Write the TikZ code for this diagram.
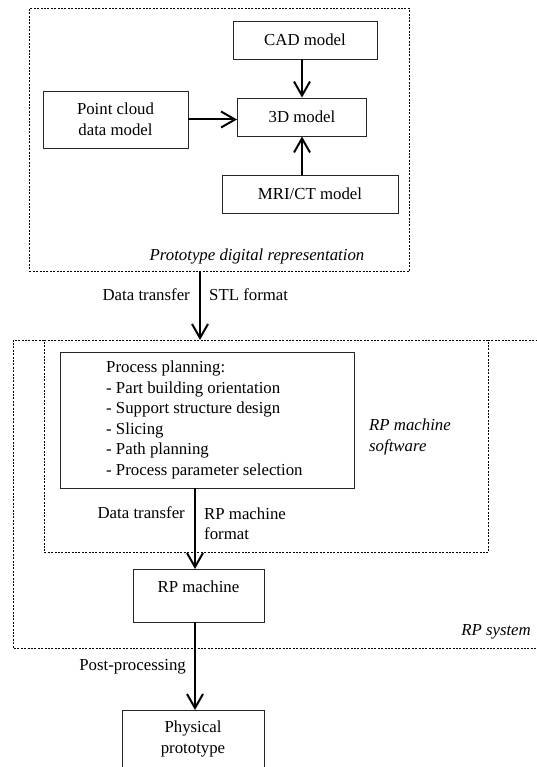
\documentclass[tikz,border=0pt]{standalone}
\usepackage{fontspec}
\setmainfont{Liberation Serif}
\usetikzlibrary{arrows.meta}
\begin{document}
\begin{tikzpicture}[x=1pt,y=-1pt,
  every node/.style={font=\fontsize{16.8}{20.5}\selectfont, inner sep=0pt},
  box/.style={draw=black!85, line width=0.9pt, minimum width=#1},
  region/.style={draw=black, line width=0.8pt, dash pattern=on 2pt off 1.4pt},
  flow/.style={line width=2pt, -{Straight Barb[length=14pt,width=16pt,line width=2pt]}},
  note/.style={font=\fontsize{16.8}{20.5}\selectfont\itshape, align=left}]
\useasboundingbox (0,0) rectangle (537,767);

% dotted frames
\node[region, anchor=north west, minimum width=380pt, minimum height=263pt] (proto) at (29,8) {};
\node[region, anchor=north west, minimum width=444pt, minimum height=212pt] (soft) at (44,340) {};
\draw[region] (44,340) -- (13,340) -- (13,648) -- (537,648);
\draw[region] (488,340) -- (537,340);

% digital representation
\node[box=144pt, minimum height=38pt] (cad) at (305,40) {CAD model};
\node[box=129pt, minimum height=38pt] (model) at (302,117) {3D model};
\node[box=145pt, minimum height=57pt, align=center] (cloud) at (115.5,119.5) {Point cloud\\data model};
\node[box=176pt, minimum height=38pt] (mri) at (310,194) {MRI/CT model};
\node[note] (protolbl) at (257,256) {Prototype digital representation};

\draw[flow] (cad.south -| model.north) -- (model.north);
\draw[flow] (cloud.east) -- (cloud.east -| model.west);
\draw[flow] (mri.north -| model.south) -- (model.south);

% transfer to RP software
\coordinate (t1s) at (200,271);
\coordinate (t1e) at (200,340);
\draw[flow] (t1s) -- (t1e);
\node[anchor=east] (dt1) at (190,295) {Data transfer};
\node[anchor=west] (stl) at (209,295) {STL format};

% process planning
\node[box=294pt, minimum height=136pt] (plan) at (207,420) {};
\node[anchor=west, align=left] (plantxt) at (106,420) {Process planning:\\- Part building orientation\\- Support structure design\\- Slicing\\- Path planning\\- Process parameter selection};
\node[note, anchor=west] (softlbl) at (369,437) {RP machine\\software};

% RP machine
\node[box=131pt, minimum height=53pt] (rpm) at (198.5,595.5) {};
\node (rpmtxt) at (198.5,587) {RP machine};
\coordinate (t2s) at (195,488);
\coordinate (t2e) at (195,569);
\draw[flow] (t2s) -- (t2e);
\node[anchor=east] (dt2) at (185,513) {Data transfer};
\node[anchor=west, align=left] (fmt) at (204,523.5) {RP machine\\format};
\node[note, anchor=east] (syslbl) at (531,632) {RP system};

% physical prototype
\node[box=142pt, minimum height=62pt, anchor=north] (phys) at (193,710) {};
\node[align=center] (phystxt) at (193,739) {Physical\\prototype};
\coordinate (t3s) at (195,622);
\coordinate (t3e) at (195,710);
\draw[flow] (t3s) -- (t3e);
\node[anchor=east] (post) at (186,667) {Post-processing};
\end{tikzpicture}
\end{document}
